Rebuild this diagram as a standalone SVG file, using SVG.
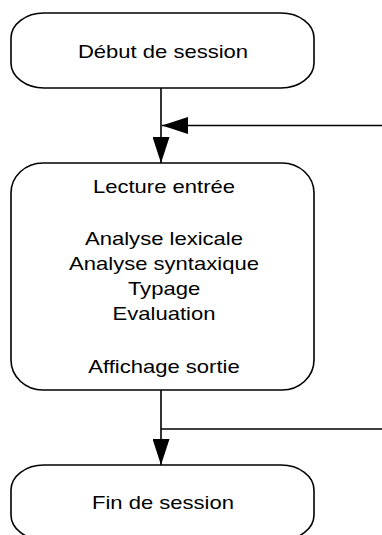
<svg xmlns="http://www.w3.org/2000/svg" width="382" height="535" viewBox="0 0 382 535">
<style>
.n{fill:#fff;stroke:#000;stroke-width:1.6}
.c{fill:none;stroke:#000;stroke-width:1.6}
.t{font-family:"Liberation Sans",Arial,sans-serif;font-size:19px;fill:#000;text-anchor:middle}
</style>
<defs>
<marker id="ah" viewBox="0 0 26 17" refX="26" refY="8.5" markerWidth="26" markerHeight="17" markerUnits="userSpaceOnUse" orient="auto">
<path d="M0,0 L26,8.5 L0,17 Z" fill="#000"/>
</marker>
</defs>
<g id="connectors">
<line class="c" x1="161" y1="88" x2="161" y2="163" marker-end="url(#ah)"/>
<line class="c" x1="382" y1="125.5" x2="162" y2="125.5" marker-end="url(#ah)"/>
<line class="c" x1="161" y1="390" x2="161" y2="465" marker-end="url(#ah)"/>
<line class="c" x1="161" y1="429" x2="382" y2="429"/>
</g>
<g id="debut">
<rect class="n" x="11" y="13" width="303" height="75" rx="33" ry="25"/>
<text class="t" transform="translate(163,0) scale(1.16,1)" x="0" y="58">Début de session</text>
</g>
<g id="traitement">
<rect class="n" x="11" y="163" width="303" height="227" rx="32" ry="30"/>
<g transform="translate(164,0) scale(1.16,1)">
<text class="t" x="0" y="193">Lecture entrée</text>
<text class="t" x="0" y="245">Analyse lexicale</text>
<text class="t" x="0" y="270">Analyse syntaxique</text>
<text class="t" x="0" y="295">Typage</text>
<text class="t" x="0" y="320">Evaluation</text>
<text class="t" x="0" y="373">Affichage sortie</text>
</g>
</g>
<g id="fin">
<rect class="n" x="11" y="465" width="303" height="75" rx="33" ry="25"/>
<text class="t" transform="translate(163,0) scale(1.16,1)" x="0" y="509">Fin de session</text>
</g>
</svg>
